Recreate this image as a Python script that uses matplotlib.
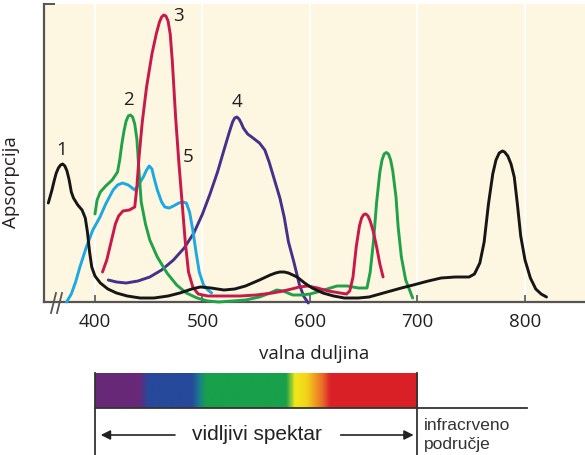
import numpy as np
import matplotlib
matplotlib.use("Agg")
import matplotlib.pyplot as plt
from matplotlib.colors import LinearSegmentedColormap

# ---------------- data ----------------
c1_x = [356.6, 360, 362, 364, 366, 368, 370, 372, 374, 376, 378, 380, 384, 388, 391, 393, 395, 397, 400, 405,
        412, 420, 430, 442, 455, 468, 479, 490, 498, 508, 520, 530, 540, 553, 563, 568, 572, 576, 580, 588,
        595, 602, 612, 622, 632, 645, 655, 665, 675, 685, 696, 710, 722, 735, 748, 753, 758, 762, 766, 770,
        773, 776, 779, 781, 784, 787, 790, 793, 796, 800, 805, 810, 815, 820]
c1_y = [99, 112, 121, 129, 134, 137, 138, 136, 131, 122, 110, 104, 97, 92, 84, 70, 50, 35, 26, 19,
        13, 9, 6, 4, 4, 6, 9, 13, 15, 14, 12, 13, 16, 22, 27, 29, 30, 30, 29, 25,
        19, 14, 9, 6, 4, 4, 5, 8, 11, 14, 17, 21, 24, 25, 25, 28, 39, 60, 98, 128,
        142, 149, 151, 150, 146, 138, 125, 97, 66, 42, 24, 13, 8, 5]

c2_x = [400, 402, 405, 410, 416, 421, 423, 425, 427, 429, 431, 433, 435, 437, 439, 441, 443, 447, 451, 458,
        467, 476, 485, 495, 505, 515, 528, 540, 553, 563, 569, 575, 584, 592, 600, 607, 616, 625, 635, 645,
        653, 656, 659, 662, 665, 667, 669, 671, 673, 675, 677, 680, 682, 685, 689, 695.5]
c2_y = [88, 102, 110, 116, 122, 130, 142, 158, 171, 181, 186, 187, 185, 178, 163, 130, 100, 78, 62, 45,
        29, 17, 9, 4, 1, 0, 1, 2, 5, 9, 12, 11, 7, 7, 8, 10, 13, 16, 16, 14,
        14, 30, 60, 100, 130, 142, 148, 149.5, 148, 142, 131, 105, 75, 45, 22, 4]

c3_x = [407, 411, 415, 419, 422, 426, 432, 437, 439, 441, 444, 448, 453, 457, 460, 462, 464, 466, 468, 470,
        472, 475, 478, 481, 484, 487, 491, 496, 505, 520, 535, 550, 565, 575, 583, 590, 598, 607, 617, 628,
        634, 637, 640, 643, 646, 648, 650, 652, 654, 656, 659, 662, 665, 668]
c3_y = [30, 42, 60, 78, 86, 91, 92, 95, 115, 145, 180, 215, 248, 268, 280, 285, 287, 286, 281, 268,
        240, 185, 140, 100, 60, 30, 15, 8, 6, 6, 6, 7, 9, 11, 13, 15, 16, 14, 11, 9,
        8, 11, 25, 55, 76, 84, 87.5, 88, 86, 81, 70, 55, 38, 25]

c4_x = [412.4, 420, 429, 440, 451, 462, 473, 483, 492, 500, 507, 514, 520, 525, 528, 530, 532, 534, 536, 538,
        542, 547, 553, 558, 562, 567, 572, 576, 580, 585, 590, 594, 598.4]
c4_y = [22, 20, 19, 21, 25, 32, 42, 54, 69, 88, 108, 130, 152, 170, 180, 184, 185, 183, 179, 174,
        168, 164, 159, 152, 140, 122, 104, 85, 60, 40, 18, 6, -1]

c5_x = [373.6, 378, 382, 386, 392, 398, 404.7, 410, 416.9, 421, 425.7, 431, 437, 441, 445, 448, 450.5, 453, 455, 458,
        462, 465, 469, 473, 478, 482, 485, 488, 491, 494, 497, 501, 505, 508.5]
c5_y = [0, 8, 20, 35, 55, 72, 85, 98, 112, 117, 119, 117, 112, 118, 125, 132, 136, 133, 124, 112,
        100, 95, 94, 96, 99, 100, 99, 90, 72, 50, 30, 17, 12, 9]

curve_names = ["1", "2", "3", "4", "5"]
label_x = [369, 431, 478, 532, 487]
label_y = [152, 202, 286, 200, 145]

x_ticks = [400, 500, 600, 700, 800]

spec_nm = [400, 441, 449, 490, 497, 503, 578, 586, 597, 605, 612, 619, 700]
spec_col = ["#682878", "#682878", "#26499b", "#26499b", "#1a7f8c", "#18a04a", "#18a04a",
            "#f2e81a", "#f2d41a", "#ee9a22", "#e9692a", "#da2027", "#da2027"]

# ---------------- figure ----------------
W, H = 585, 455
fig = plt.figure(figsize=(W / 100, H / 100), dpi=100)
fig.patch.set_facecolor("white")

ax_l, ax_r, ax_t, ax_b = 44, 585, 4, 302
ax = fig.add_axes([ax_l / W, 1 - ax_b / H, (ax_r - ax_l) / W, (ax_b - ax_t) / H])
ax.set_facecolor("#fdf6e0")
xmin, xmax = 352.6, 855.8
ax.set_xlim(xmin, xmax)
ax.set_ylim(0, 298)

for xv in x_ticks:
    ax.axvline(xv, color="white", lw=1.4, zorder=1)

series = [(c1_x, c1_y, "#161616"), (c2_x, c2_y, "#1fa24a"), (c3_x, c3_y, "#c9184a"),
          (c4_x, c4_y, "#45308c"), (c5_x, c5_y, "#1ca9e2")]
for i in [3, 4, 1, 2, 0]:
    x, y, c = series[i]
    ax.plot(x, y, color=c, lw=2.1, solid_joinstyle="round", solid_capstyle="round",
            zorder=3, clip_on=False)

for name, lx, ly in zip(curve_names, label_x, label_y):
    ax.text(lx, ly, name, fontsize=13.5, family="Open Sans", color="#231f20",
            ha="center", va="center", zorder=4)

for s in ["top", "right"]:
    ax.spines[s].set_visible(False)
for s in ["left", "bottom"]:
    ax.spines[s].set_color("#555555")
    ax.spines[s].set_linewidth(1.6)

ax.set_xticks(x_ticks)
ax.set_xticklabels([str(t) for t in x_ticks], family="Open Sans", fontsize=13.5, color="#231f20")
ax.tick_params(axis="x", direction="in", length=5, width=1.2, color="#555555", pad=8)
ax.set_yticks([298])
ax.set_yticklabels([""])
ax.tick_params(axis="y", direction="in", length=8, width=1.4, color="#555555")

ax.set_xlabel("valna duljina", family="Open Sans", fontsize=13.5, color="#231f20", labelpad=10)
ax.set_ylabel("Apsorpcija", family="Open Sans", fontsize=13.5, color="#231f20")
ax.yaxis.set_label_coords(-0.045, (ax_b - 182) / (ax_b - ax_t))

# axis break marks
axw, axh = ax_r - ax_l, ax_b - ax_t
for dx in (0, 6):
    ax.plot([(51 + dx - ax_l) / axw, (56 + dx - ax_l) / axw],
            [(ax_b - 313) / axh, (ax_b - 293) / axh],
            transform=ax.transAxes, color="#555555", lw=1.3, clip_on=False, zorder=5)

# ---------------- spectrum bar ----------------
bar_t, bar_b = 373.3, 408.3
bx = fig.add_axes([ax_l / W, 1 - bar_b / H, (ax_r - ax_l) / W, (bar_b - bar_t) / H])
bx.axis("off")
pos = [(v - spec_nm[0]) / (spec_nm[-1] - spec_nm[0]) for v in spec_nm]
cmap = LinearSegmentedColormap.from_list("vis", list(zip(pos, spec_col)))
grad = np.linspace(0, 1, 600)[None, :]
bx.imshow(grad, cmap=cmap, aspect="auto", extent=(spec_nm[0], spec_nm[-1], 0, 1),
          interpolation="bilinear")
bx.set_xlim(xmin, xmax)
bx.set_ylim(0, 1)

lc = "#333333"
bot = -(H - bar_b) / (bar_b - bar_t) - 0.05
bx.plot([400, 400], [1, bot], color=lc, lw=1.3, clip_on=False)
bx.plot([700, 700], [1, bot], color=lc, lw=1.3, clip_on=False)
bx.plot([400, 802], [0, 0], color=lc, lw=1.3, clip_on=False)

ya = (bar_b - 435) / (bar_b - bar_t)
bx.annotate("", xy=(402.8, ya), xytext=(477, ya),
            arrowprops=dict(arrowstyle="-|>", color="#222222", lw=1.2, mutation_scale=14),
            annotation_clip=False)
bx.annotate("", xy=(699, ya), xytext=(626, ya),
            arrowprops=dict(arrowstyle="-|>", color="#222222", lw=1.2, mutation_scale=14),
            annotation_clip=False)
bx.text(550.7, ya, "vidljivi spektar", family="Liberation Sans", fontsize=15, color="#222222",
        ha="center", va="center")
bx.text(706, (bar_b - 426) / (bar_b - bar_t), "infracrveno", family="Liberation Sans",
        fontsize=12.5, color="#333333", ha="left", va="center")
bx.text(706, (bar_b - 445) / (bar_b - bar_t), "područje", family="Liberation Sans",
        fontsize=12.5, color="#333333", ha="left", va="center")

fig.savefig("out.png", dpi=100)
